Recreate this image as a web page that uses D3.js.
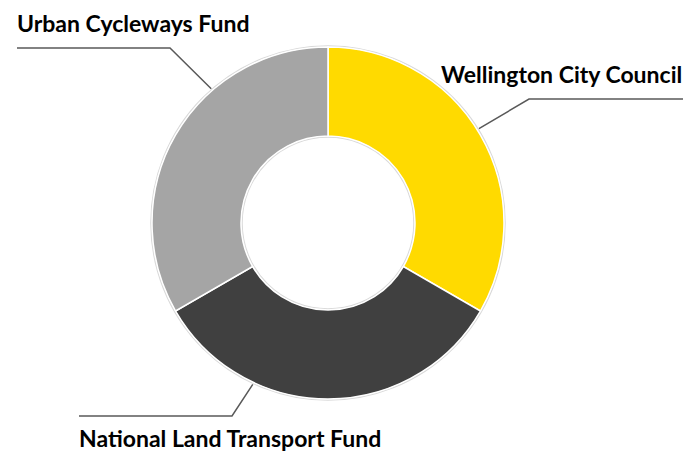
<!DOCTYPE html>
<html>
<head>
<meta charset="utf-8">
<script src="https://cdn.jsdelivr.net/npm/d3@7"></script>
<style>
  html, body { margin: 0; padding: 0; background: #fff; }
  text { font-family: "Lato", "Open Sans", sans-serif; font-weight: 700; fill: #000; }
</style>
</head>
<body>
<div id="chart"></div>
<script>
// slices, clockwise from 12 o'clock
const sources = ["Wellington City Council", "National Land Transport Fund", "Urban Cycleways Fund"];
const shares = [1, 1, 1];
const colors = ["#FFDA00", "#404040", "#A5A5A5"];

const width = 686, height = 451;
const cx = 328, cy = 223;
const outerR = 176, innerR = 87;

// where each leader line meets the ring (degrees from top) and where its label sits
const leaderAngle = [58, 205, 319];
const labelLayout = [
  {elbow: [529, 99], end: [683, 99], text: [441, 83], anchor: "start"},
  {elbow: [232, 416], end: [79, 416], text: [79, 447], anchor: "start"},
  {elbow: [170, 48], end: [17, 48], text: [17, 32], anchor: "start"}
];

const svg = d3.select("#chart").append("svg")
  .attr("width", width)
  .attr("height", height);

const g = svg.append("g").attr("transform", `translate(${cx},${cy})`);

const pie = d3.pie().sort(null).value(d => d);
const arc = d3.arc().innerRadius(innerR).outerRadius(outerR);

const arcs = pie(shares);

// faint outline round the ring
g.append("circle").attr("r", outerR + 1).attr("fill", "none").attr("stroke", "#d9d9d9").attr("stroke-width", 1.5);
g.append("circle").attr("r", innerR - 1).attr("fill", "none").attr("stroke", "#d9d9d9").attr("stroke-width", 1.5);

g.selectAll("path.slice")
  .data(arcs)
  .enter().append("path")
  .attr("class", "slice")
  .attr("d", arc)
  .attr("fill", (d, i) => colors[i])
  .attr("stroke", "#fff")
  .attr("stroke-width", 1.5);

// leader lines
const rad = a => a * Math.PI / 180;
arcs.forEach((d, i) => {
  const a = rad(leaderAngle[i]);
  const sx = cx + Math.sin(a) * (outerR + 2);
  const sy = cy - Math.cos(a) * (outerR + 2);
  const L = labelLayout[i];
  svg.append("polyline")
    .attr("points", [[sx, sy], L.elbow, L.end].map(p => p.join(",")).join(" "))
    .attr("fill", "none")
    .attr("stroke", "#595959")
    .attr("stroke-width", 1.5);
  svg.append("text")
    .attr("x", L.text[0])
    .attr("y", L.text[1])
    .attr("text-anchor", L.anchor)
    .style("font-size", "23px")
    .text(sources[i]);
});
</script>
</body>
</html>
